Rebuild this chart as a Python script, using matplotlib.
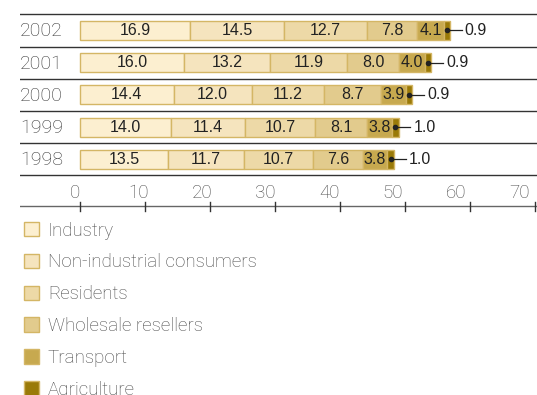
import matplotlib
matplotlib.use("Agg")
import matplotlib.pyplot as plt
import numpy as np

years = ["2002", "2001", "2000", "1999", "1998"]
series = ["Industry", "Non-industrial consumers", "Residents",
          "Wholesale resellers", "Transport", "Agriculture"]
industry = [16.9, 16.0, 14.4, 14.0, 13.5]
non_industrial = [14.5, 13.2, 12.0, 11.4, 11.7]
residents = [12.7, 11.9, 11.2, 10.7, 10.7]
wholesale = [7.8, 8.0, 8.7, 8.1, 7.6]
transport = [4.1, 4.0, 3.9, 3.8, 3.8]
agriculture = [0.9, 0.9, 0.9, 1.0, 1.0]
x_ticks = [0, 10, 20, 30, 40, 50, 60, 70]

values = [industry, non_industrial, residents, wholesale, transport, agriculture]
fills = ["#FCEFD0", "#F5E4BE", "#EDD9A7", "#E2CB8D", "#C7A94F", "#9A7A08"]
edge = "#D4B665"

plt.rcParams["font.family"] = ["Roboto", "DejaVu Sans"]

fig = plt.figure(figsize=(5.37, 3.95), dpi=100)
W, H = 537, 395
# axes spanning pixel rows 0..215, columns 20..537
ax = fig.add_axes([20 / W, 1 - 215 / H, 517 / W, 215 / H])
ax.set_xlim(-60 / 6.5, (537 - 80) / 6.5)
ax.set_ylim(5.73, -0.947)
ax.axis("off")

y = np.arange(len(years))
left = np.zeros(len(years))
bars = []
for name, vals, fc in zip(series, values, fills):
    b = ax.barh(y, vals, left=left, height=0.59, color=fc, edgecolor=edge,
                linewidth=1.0, label=name)
    bars.append(b)
    left = left + np.array(vals)

# value labels inside segments (all but agriculture)
left = np.zeros(len(years))
for vals in values[:-1]:
    for i, v in enumerate(vals):
        ax.text(left[i] + v / 2, y[i], f"{v:.1f}", ha="center", va="center",
                fontsize=11.5, color="#222222",
                family=["Liberation Sans", "DejaVu Sans"])
    left = left + np.array(vals)

# agriculture callouts: dot, leader line, value
for i, v in enumerate(agriculture):
    cx = left[i] + v / 2
    ax.plot([cx, left[i] + v + 1.8], [y[i], y[i]], color="#222222", lw=0.9)
    ax.plot(cx, y[i], "o", color="#222222", ms=3)
    ax.text(left[i] + v + 2.3, y[i], f"{v:.1f}", ha="left", va="center",
            fontsize=11.5, color="#222222",
            family=["Liberation Sans", "DejaVu Sans"])

# row separators
for s in np.arange(-0.5, len(years), 1.0):
    ax.axhline(s, color="#333333", lw=1.0)

# year labels
for i, yr in enumerate(years):
    ax.text(-60 / 6.5, y[i] + 0.03, yr, ha="left", va="center", fontsize=14,
            color="#333333", fontweight="light")

# x axis line with ticks and labels above
axis_y = 5.435
ax.axhline(axis_y, color="#666666", lw=1.0)
for t in x_ticks:
    ax.plot([t, t], [axis_y - 0.12, axis_y + 0.17], color="#333333", lw=1.0,
            clip_on=False)
    ax.text(-0.77 + 0.978 * t, axis_y - 0.22, str(t), ha="center",
            va="baseline", fontsize=13.5, color="#4a4a4a", fontweight="light")

handles = [b.patches[0] for b in bars]
leg = fig.legend(handles, series, loc="upper left",
                 bbox_to_anchor=(16 / W, 1 - 214 / H), frameon=False,
                 fontsize=13.5, handlelength=0.8, handleheight=0.8,
                 handletextpad=0.5, labelspacing=0.74, borderaxespad=0)
for t in leg.get_texts():
    t.set_color("#4a4a4a")
    t.set_fontweight("light")

fig.savefig("out.png", dpi=100)
